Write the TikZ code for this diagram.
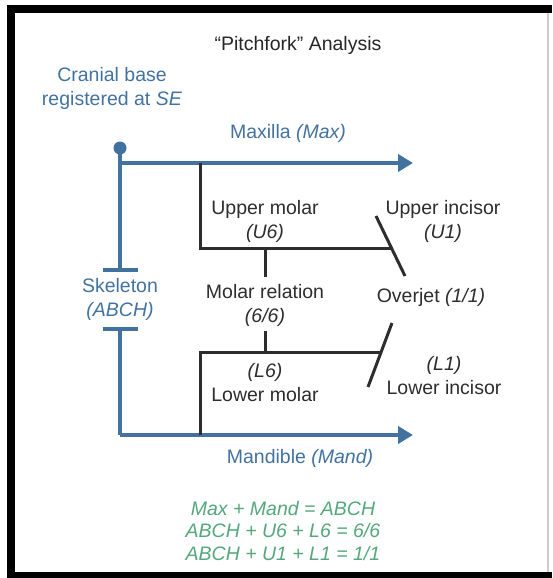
\documentclass[tikz,border=0pt]{standalone}
\usepackage{fontspec}
\setmainfont{Liberation Sans}
\usetikzlibrary{arrows.meta}

\definecolor{skblue}{RGB}{66,114,160}
\definecolor{eqgreen}{RGB}{84,168,124}
\definecolor{txtgray}{RGB}{45,45,45}

\begin{document}
\begin{tikzpicture}[x=1pt,y=-1pt,
    lbl/.style={text=txtgray,align=center,inner sep=0pt,font=\fontsize{19.5}{24}\selectfont},
    bluelbl/.style={lbl,text=skblue},
    eqline/.style={lbl,text=eqgreen,font=\fontsize{19.5}{22.5}\selectfont\itshape},
    jaw/.style={skblue,line width=4pt,-{Triangle[length=15pt,width=17pt]}},
    skel/.style={skblue,line width=4pt},
    tooth/.style={txtgray,line width=3pt}]
    \useasboundingbox (0,0) rectangle (552,578);
    % frame
    \draw [line width=8pt] (11,578) -- (11,9) -- (552,9);
    \fill (7,572) rectangle (552,578);
    \draw [gray!40,line width=1.5pt] (548,13) -- (548,572);

    \path (298,45) node [lbl,text=black!85] (title) {``Pitchfork'' Analysis};

    % skeleton
    \path (112,88) node [bluelbl] (cb) {Cranial base\\registered at \textit{SE}};
    \path (120,148) node [circle,fill=skblue,inner sep=0pt,minimum size=13pt] (se) {};
    \path (120,272) coordinate (skT) (120,327) coordinate (skB);
    \path (120,299) node [bluelbl] (sk) {Skeleton\\\textit{(ABCH)}};
    \draw [skel,-{Bar[width=35pt]}] (se.center) -- (skT);
    \draw [skel,{Bar[width=35pt]}-] (skB) -- (120,435) coordinate (mandO);

    % jaws
    \path (120,163) coordinate (maxO) (413,163) coordinate (maxE);
    \draw [jaw] (maxO) -- (maxE);
    \path (288,133) node [bluelbl] (max) {Maxilla \textit{(Max)}};
    \path (413,435) coordinate (mandE);
    \draw [jaw] (mandO) -- (mandE);
    \path (300,458) node [bluelbl] (mand) {Mandible \textit{(Mand)}};

    % molars
    \path (200,163) coordinate (um) (391,248) coordinate (ui);
    \draw [tooth] (um) |- (ui);
    \path (200,435) coordinate (lm) (381,352) coordinate (li);
    \draw [tooth] (lm) |- (li);
    \path (265,221) node [lbl] (u6) {Upper molar\\\textit{(U6)}};
    \path (265,305) node [lbl] (rel) {Molar relation\\\textit{(6/6)}};
    \path (265,383) node [lbl] (l6) {\textit{(L6)}\\Lower molar};
    \draw [tooth] (265,248) -- (265,277);
    \draw [tooth] (265,331) -- (265,352);

    % incisors
    \path (376,216) coordinate (uiA) (405,276) coordinate (uiB);
    \draw [tooth] (uiA) -- (uiB);
    \path (392,323) coordinate (liA) (368,387) coordinate (liB);
    \draw [tooth] (liA) -- (liB);
    \path (443,221) node [lbl] (u1) {Upper incisor\\\textit{(U1)}};
    \path (431,297) node [lbl] (oj) {Overjet \textit{(1/1)}};
    \path (444,376) node [lbl] (l1) {\textit{(L1)}\\Lower incisor};

    % sums
    \path (283,531) node [eqline] (sums) {Max + Mand = ABCH\\ABCH + U6 + L6 = 6/6\\ABCH + U1 + L1 = 1/1};
\end{tikzpicture}
\end{document}
